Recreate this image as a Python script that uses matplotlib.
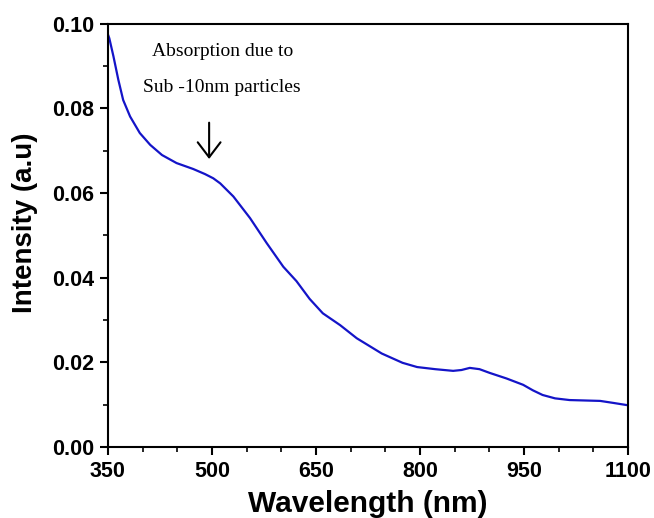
import numpy as np
import matplotlib
matplotlib.use("Agg")
import matplotlib.pyplot as plt
from matplotlib.ticker import MultipleLocator

# values
wavelength = [350, 352, 358, 365, 372, 382, 396, 411, 428, 449, 473, 490,
              502, 512, 531, 555, 579, 603, 622, 641, 660, 685, 709,
              745, 775, 796, 822, 848, 860, 872, 886, 901, 925, 949, 963,
              977, 995, 1016, 1038, 1060, 1080, 1099]
intensity = [0.0975, 0.0966, 0.0923, 0.0868, 0.0820, 0.0781, 0.0742, 0.0714,
             0.0690, 0.0671, 0.0657, 0.0645, 0.0635, 0.0623, 0.0592,
             0.0541, 0.0482, 0.0426, 0.0392, 0.0350, 0.0316, 0.0288, 0.0257,
             0.0221, 0.0199, 0.0189, 0.0184, 0.0180, 0.0182, 0.0187, 0.0184,
             0.0175, 0.0162, 0.0147, 0.0134, 0.0123, 0.0115, 0.0111, 0.0110,
             0.0109, 0.0104, 0.0099]

xticks = [350, 500, 650, 800, 950, 1100]
yticks = [0.00, 0.02, 0.04, 0.06, 0.08, 0.10]

plt.rcParams["font.family"] = ["Liberation Sans", "DejaVu Sans"]

fig = plt.figure(figsize=(6.54, 5.18), dpi=100)
ax = fig.add_axes([0.165, 0.137, 0.795, 0.817])

ax.plot(wavelength, intensity, "-", color="#1414c8", lw=1.6)

ax.set_xlim(350, 1100)
ax.set_ylim(0, 0.10)
ax.set_xticks(xticks)
ax.set_yticks(yticks)
ax.set_yticklabels(["%.2f" % v for v in yticks])
ax.xaxis.set_minor_locator(MultipleLocator(50))
ax.yaxis.set_minor_locator(MultipleLocator(0.01))

ax.tick_params(which="major", direction="out", length=6, width=1.5,
               top=False, right=False, labelsize=15.5, pad=4)
ax.tick_params(which="minor", direction="out", length=3.5, width=1.2,
               top=False, right=False)
for lab in ax.get_xticklabels() + ax.get_yticklabels():
    lab.set_fontweight("bold")
for sp in ax.spines.values():
    sp.set_linewidth(1.5)

ax.set_xlabel("Wavelength (nm)", fontsize=21.5, fontweight="bold")
ax.set_ylabel("Intensity (a.u)", fontsize=20, fontweight="bold")
ax.xaxis.set_label_coords(0.5, -0.101)
ax.yaxis.set_label_coords(-0.135, 0.53)

ax.text(515, 0.0934, "Absorption due to", family="Liberation Serif",
        fontsize=14, ha="center", va="center")
ax.text(515, 0.0849, "Sub -10nm particles", family="Liberation Serif",
        fontsize=14, ha="center", va="center")
ax.annotate("", xy=(496, 0.0674), xytext=(496, 0.0773),
            arrowprops=dict(arrowstyle="->,head_length=0.54,head_width=0.41",
                            color="black", lw=1.5, mutation_scale=20))

fig.savefig("out.png", dpi=100)
